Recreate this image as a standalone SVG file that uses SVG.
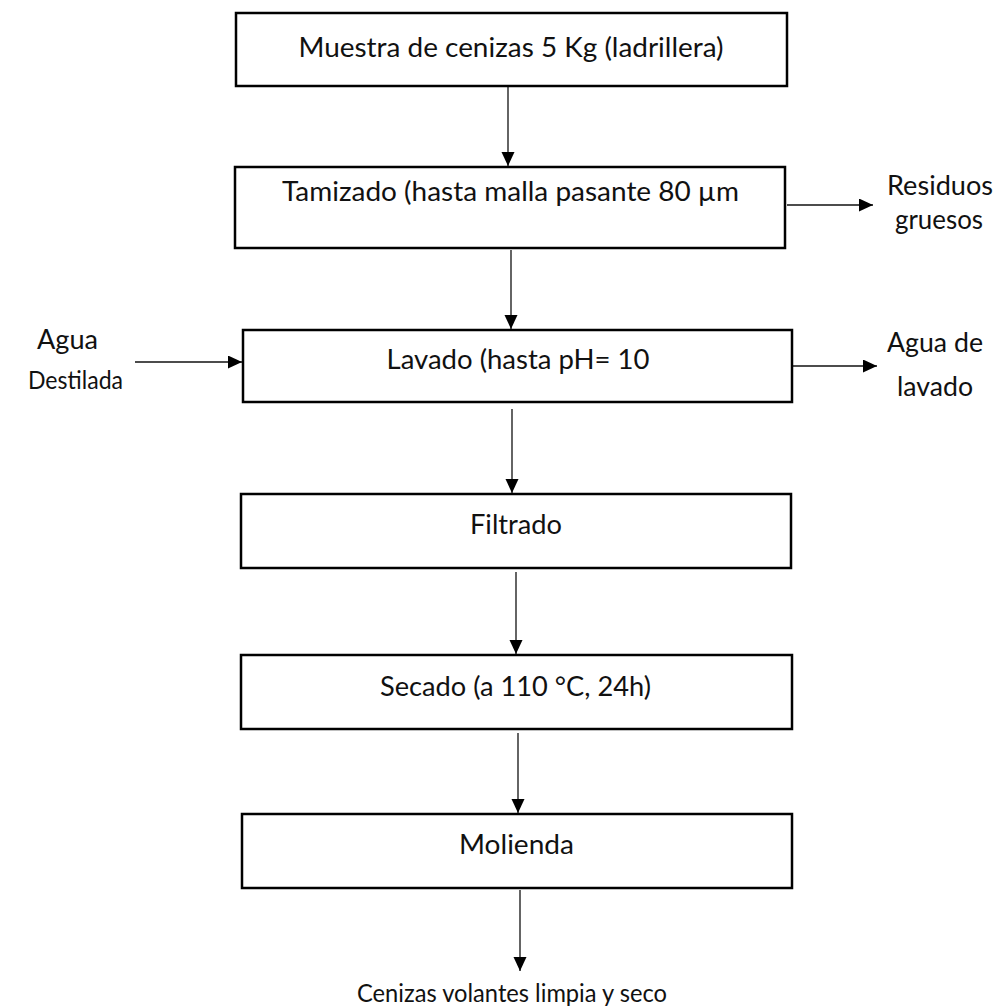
<svg xmlns="http://www.w3.org/2000/svg" width="998" height="1007" viewBox="0 0 998 1007">
<style>
.box{fill:#fff;stroke:#000;stroke-width:2.5}
.t{font-family:Lato,"Open Sans","Liberation Sans",sans-serif;font-size:27px;fill:#111}
.s{font-size:25.5px}
.c{text-anchor:middle}
.ln{stroke:#111;stroke-width:1.3;fill:none;marker-end:url(#ah)}
</style>
<defs>
<marker id="ah" markerUnits="userSpaceOnUse" markerWidth="15" markerHeight="14" refX="14" refY="6.5" orient="auto">
<path d="M0,0 L14,6.5 L0,13 z" fill="#000"/>
</marker>
</defs>
<rect width="998" height="1007" fill="#fff"/>
<g id="connectors">
<line class="ln" x1="508" y1="87" x2="508" y2="166"/>
<line class="ln" x1="511" y1="250" x2="511" y2="329"/>
<line class="ln" x1="512" y1="409" x2="512" y2="493"/>
<line class="ln" x1="516" y1="572" x2="516" y2="654"/>
<line class="ln" x1="518" y1="733" x2="518" y2="813"/>
<line class="ln" x1="520" y1="890" x2="520" y2="971"/>
<line class="ln" x1="135" y1="362" x2="242" y2="362"/>
<line class="ln" x1="787" y1="205" x2="873" y2="205"/>
<line class="ln" x1="793" y1="366" x2="877" y2="366"/>
</g>
<g id="n1"><rect class="box" x="236" y="13" width="551" height="73"/><text class="t c" x="511" y="57" textLength="425" lengthAdjust="spacingAndGlyphs">Muestra de cenizas 5 Kg (ladrillera)</text></g>
<g id="n2"><rect class="box" x="235" y="167" width="550" height="81"/><text class="t c" x="510.5" y="201" textLength="457" lengthAdjust="spacingAndGlyphs">Tamizado (hasta malla pasante 80 µm</text></g>
<g id="n3"><rect class="box" x="243" y="330" width="549" height="72"/><text class="t c" x="518" y="369" textLength="263" lengthAdjust="spacingAndGlyphs">Lavado (hasta pH= 10</text></g>
<g id="n4"><rect class="box" x="241" y="494" width="550" height="74"/><text class="t c" x="516" y="534" textLength="92" lengthAdjust="spacingAndGlyphs">Filtrado</text></g>
<g id="n5"><rect class="box" x="241" y="655" width="551" height="74"/><text class="t c" x="515.5" y="696" textLength="271" lengthAdjust="spacingAndGlyphs">Secado (a 110 °C, 24h)</text></g>
<g id="n6"><rect class="box" x="242" y="814" width="550" height="74"/><text class="t c" x="516.5" y="854" textLength="115" lengthAdjust="spacingAndGlyphs">Molienda</text></g>
<g id="in-water"><text class="t" x="37" y="349" textLength="61" lengthAdjust="spacingAndGlyphs">Agua</text><text class="t s" x="28" y="389" textLength="95" lengthAdjust="spacingAndGlyphs">Destilada</text></g>
<g id="out-residuos"><text class="t c" x="940" y="195" textLength="106" lengthAdjust="spacingAndGlyphs">Residuos</text><text class="t c" x="939" y="229" textLength="88" lengthAdjust="spacingAndGlyphs">gruesos</text></g>
<g id="out-agua"><text class="t c" x="935" y="352" textLength="96" lengthAdjust="spacingAndGlyphs">Agua de</text><text class="t c" x="935" y="396" textLength="76" lengthAdjust="spacingAndGlyphs">lavado</text></g>
<g id="product"><text class="t s c" x="512" y="1002" textLength="310" lengthAdjust="spacingAndGlyphs">Cenizas volantes limpia y seco</text></g>
</svg>
